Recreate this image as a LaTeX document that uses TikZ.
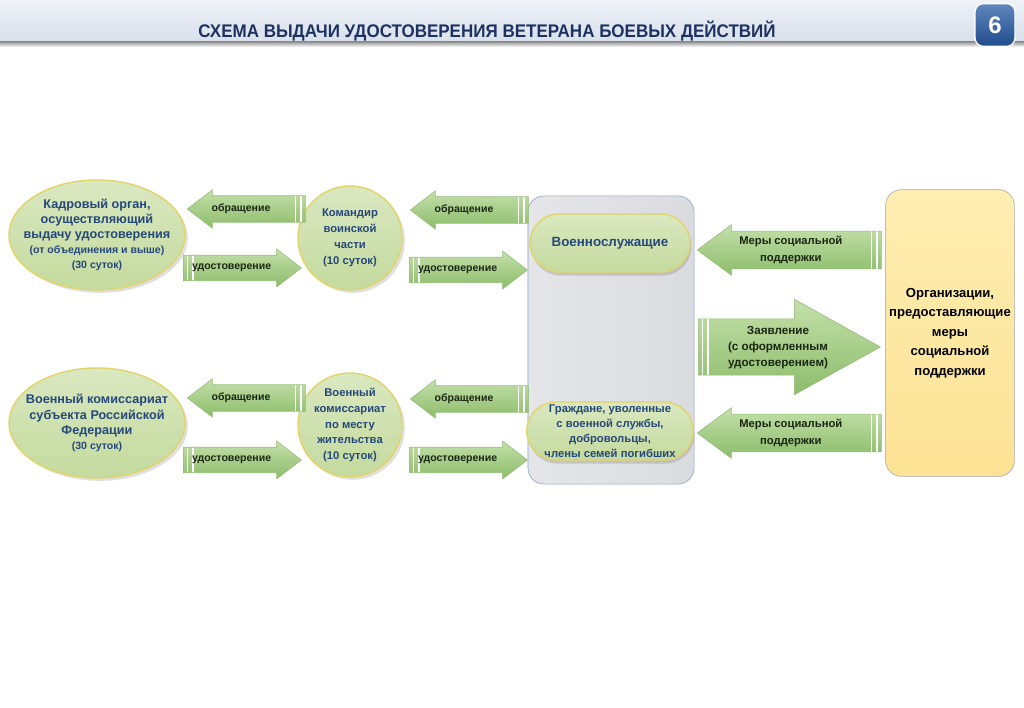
\documentclass[tikz,border=0pt]{standalone}
\usepackage{fontspec}
\setmainfont{Liberation Sans}
\usetikzlibrary{shapes.geometric,shapes.arrows,shapes.misc,shadows}
\definecolor{nodegreen}{RGB}{218,232,192}
\definecolor{nodegreenb}{RGB}{196,218,158}
\definecolor{rimyellow}{RGB}{226,212,104}
\definecolor{textblue}{RGB}{36,72,122}
\definecolor{titleblue}{RGB}{30,50,98}
\definecolor{arrowtop}{RGB}{196,224,170}
\definecolor{arrowbot}{RGB}{140,188,106}
\definecolor{arrowrim}{RGB}{150,188,120}
\definecolor{labeldark}{RGB}{26,38,18}
\definecolor{panelgray}{RGB}{218,219,223}
\definecolor{panelrim}{RGB}{138,162,198}
\definecolor{orgyellow}{RGB}{254,238,178}
\definecolor{orgyellowb}{RGB}{252,226,148}
\definecolor{headtop}{RGB}{238,242,247}
\definecolor{headbot}{RGB}{216,224,235}
\definecolor{badgetop}{RGB}{96,134,188}
\definecolor{badgebot}{RGB}{32,76,140}

\begin{document}
\begin{tikzpicture}[x=0.025cm, y=-0.025cm,
  oval/.style={ellipse, draw=rimyellow, line width=1pt, top color=nodegreen, bottom color=nodegreenb,
    text=textblue, align=center, inner xsep=-0.32cm, inner ysep=0pt, minimum width=4.4cm, minimum height=2.75cm,
    font=\bfseries\fontsize{9}{10.8}\selectfont,
    drop shadow={opacity=0.25, shadow xshift=2pt, shadow yshift=-2pt}},
  disc/.style={circle, draw=rimyellow, line width=1pt, top color=nodegreen, bottom color=nodegreenb,
    text=textblue, align=center, inner sep=0pt, minimum size=2.6cm,
    font=\bfseries\fontsize{8}{11.3}\selectfont,
    drop shadow={opacity=0.25, shadow xshift=2pt, shadow yshift=-2pt}},
  pill/.style={rounded rectangle, draw=rimyellow, line width=1pt, top color=nodegreen, bottom color=nodegreenb,
    text=textblue, align=center, inner sep=0pt, minimum width=4cm, minimum height=1.45cm,
    drop shadow={opacity=0.3, shadow xshift=1pt, shadow yshift=-2.5pt}},
  flow/.style={single arrow, draw=arrowrim, top color=arrowtop, bottom color=arrowbot,
    inner xsep=0pt, text=labeldark, align=center, font=\bfseries\fontsize{7.5}{10}\selectfont},
  flowleft/.style={flow, shape border rotate=180,
    path picture={\draw[white, line width=1.1pt]
      ([xshift=-3pt]path picture bounding box.north east) -- ([xshift=-3pt]path picture bounding box.south east)
      ([xshift=-7pt]path picture bounding box.north east) -- ([xshift=-7pt]path picture bounding box.south east);}},
  flowright/.style={flow,
    path picture={\draw[white, line width=1.1pt]
      ([xshift=3pt]path picture bounding box.north west) -- ([xshift=3pt]path picture bounding box.south west)
      ([xshift=7pt]path picture bounding box.north west) -- ([xshift=7pt]path picture bounding box.south west);}},
  small/.style={minimum height=2.95cm, minimum width=0.95cm, inner ysep=0.2cm,
    single arrow head extend=0.15cm, single arrow tip angle=75},
  wide/.style={minimum height=4.6cm, minimum width=1.22cm, inner ysep=0.12cm,
    single arrow head extend=0.16cm, single arrow tip angle=73,
    font=\bfseries\fontsize{8}{12}\selectfont}]
  \useasboundingbox (0,0) rectangle (1024,708);
  \fill[white] (0,0) rectangle (1024,708);
  % header
  \shade[top color=headtop, bottom color=headbot] (0,0) rectangle (1024,42);
  \shade[top color=black!40, bottom color=white] (0,42) rectangle (1024,47);
  \node[text=titleblue, font=\bfseries\fontsize{13}{13}\selectfont] (title) at (487,31)
    {\scalebox{0.93}[1]{СХЕМА ВЫДАЧИ УДОСТОВЕРЕНИЯ ВЕТЕРАНА БОЕВЫХ ДЕЙСТВИЙ}};
  \node[draw=white, line width=1pt, rounded corners=6pt, top color=badgetop, bottom color=badgebot,
    minimum width=1cm, minimum height=1.07cm, text=white, font=\bfseries\fontsize{17}{17}\selectfont] (badge) at (995,25) {6};
  % panels
  \node[draw=panelrim, rounded corners=0.4cm, left color=panelgray!70, right color=panelgray,
    minimum width=4.15cm, minimum height=7.2cm] (panel) at (611,340) {};
  \node[draw=black!35, rounded corners=0.4cm, top color=orgyellow, bottom color=orgyellowb,
    minimum width=3.22cm, minimum height=7.17cm, align=center, inner sep=0pt,
    font=\bfseries\fontsize{9.3}{13.8}\selectfont] (org) at (950,333)
    {Организации,\\предоставляющие\\меры\\социальной\\поддержки};
  % issuing bodies
  \node[oval] (kadr) at (97,235) {Кадровый орган,\\осуществляющий\\выдачу удостоверения\\
    {\fontsize{7.5}{9}\selectfont(от объединения и выше)}\\{\fontsize{7.5}{9}\selectfont(30 суток)}};
  \node[oval] (vk) at (97,423) {Военный комиссариат\\субъекта Российской\\Федерации\\
    {\fontsize{7.5}{9}\selectfont(30 суток)}};
  \node[disc] (kom) at (350,238) {Командир\\воинской\\части\\(10 суток)};
  \node[disc] (vkm) at (350,425) {Военный\\комиссариат\\по месту\\жительства\\(10 суток)};
  % recipients
  \node[pill, font=\bfseries\fontsize{9.5}{11}\selectfont] (vs) at (610,243) {Военнослужащие};
  \node[pill, font=\bfseries\fontsize{8}{10.8}\selectfont] (gr) at (610,431)
    {Граждане, уволенные\\с военной службы,\\добровольцы,\\члены семей погибших};
  % flows
  \node[flowleft, small] (a1) at (255,209) {\kern-0.35cm обращение\kern0.35cm};
  \node[flowright, small] (a2) at (234,268) {\kern-0.06cm удостоверение\kern0.06cm};
  \node[flowleft, small] (a3) at (478,210) {\kern-0.35cm обращение\kern0.35cm};
  \node[flowright, small] (a4) at (460,270) {\kern-0.06cm удостоверение\kern0.06cm};
  \node[flowleft, small] (a5) at (255,398) {\kern-0.35cm обращение\kern0.35cm};
  \node[flowright, small] (a6) at (234,460) {\kern-0.06cm удостоверение\kern0.06cm};
  \node[flowleft, small] (a7) at (478,399) {\kern-0.35cm обращение\kern0.35cm};
  \node[flowright, small] (a8) at (460,460) {\kern-0.06cm удостоверение\kern0.06cm};
  \node[flowleft, wide] (m1) at (802,250) {\kern-0.28cm Меры социальной\kern0.28cm\\\kern-0.28cm поддержки\kern0.28cm};
  \node[flowleft, wide] (m2) at (802,433) {\kern-0.28cm Меры социальной\kern0.28cm\\\kern-0.28cm поддержки\kern0.28cm};
  \node[flowright, minimum height=4.55cm, minimum width=2.22cm, inner ysep=0.1cm, single arrow head extend=0.49cm,
    single arrow tip angle=58, font=\bfseries\fontsize{8.3}{11.3}\selectfont] (zv) at (764,347)
    {\begin{tabular}{@{}c@{}}Заявление\\(с оформленным\\удостоверением)\end{tabular}\hspace{-0.7cm}};
\end{tikzpicture}
\end{document}
